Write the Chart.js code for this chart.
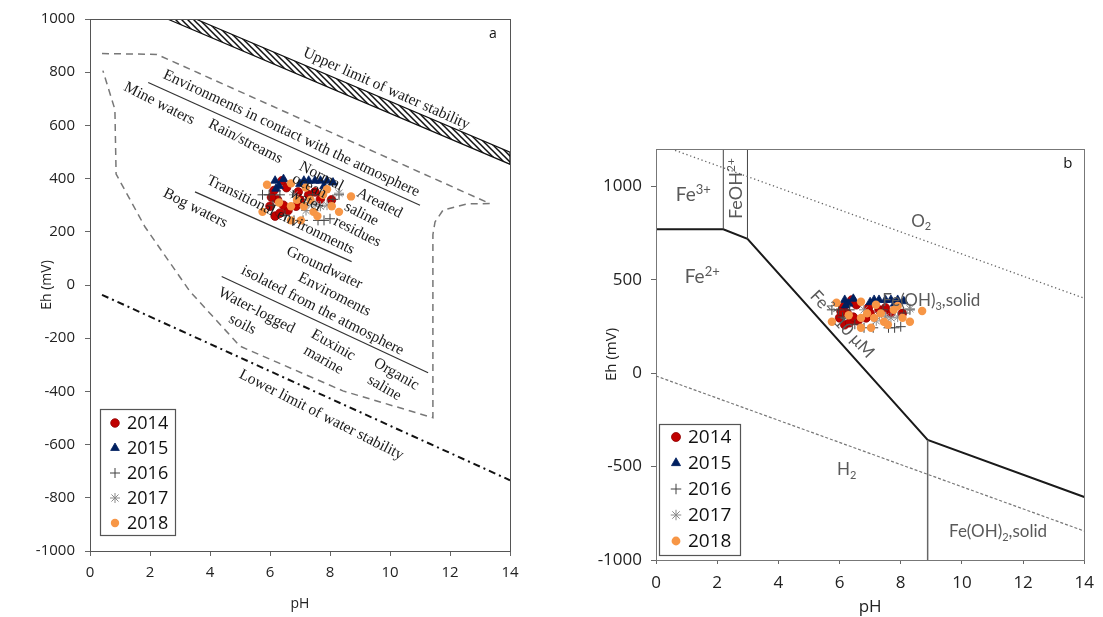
<!DOCTYPE html>
<html><head><meta charset="utf-8">
<script src="https://cdn.jsdelivr.net/npm/chart.js@4.4.1/dist/chart.umd.min.js"></script>
<style>
html,body{margin:0;padding:0;background:#fff;}
#wrap{position:relative;width:1103px;height:617px;overflow:hidden;background:#fff;}
.box{position:absolute;top:0;height:617px;}
</style></head><body>
<div id="wrap">
<div class="box" style="left:0;width:540px"><canvas id="ca"></canvas></div>
<div class="box" style="left:560px;width:543px"><canvas id="cb"></canvas></div>
</div>
<script>
// ---------- measured data (pH, Eh in mV) ----------
const years = ['2014','2015','2016','2017','2018'];
const pH2014 = [6.13,6.40,6.55,6.94,6.00,6.17,6.33,7.29,7.68,6.87,6.25,6.60,7.00,6.45,7.50,6.05,8.05];
const Eh2014 = [355,392,366,350,296,259,270,339,323,296,320,280,320,300,350,330,320];
const pH2015 = [6.17,6.45,7.13,7.29,7.50,7.68,7.90,6.30,7.00,7.80,6.20,8.10];
const Eh2015 = [392,398,392,392,392,392,392,372,380,372,362,385];
const pH2016 = [5.75,5.97,6.33,6.80,7.10,7.60,8.00,8.30,7.42,7.80,6.50,8.10,6.10];
const Eh2016 = [339,339,339,243,243,243,249,339,339,243,262,322,300];
const pH2017 = [7.68,6.80,7.50,7.30,7.90,7.20,8.30];
const Eh2017 = [296,339,302,310,300,280,345];
const pH2018 = [5.90,6.70,5.75,6.70,7.13,7.45,7.77,8.06,7.58,6.70,7.19,7.03,8.30,8.70,6.30,7.90,6.90,7.35];
const Eh2018 = [377,382,275,296,296,275,339,296,259,243,366,243,275,333,310,360,320,320];

// ---------- panel a: environment diagram ----------
const upperBandPH = [2.58,14,14,3.52,2.58];
const upperBandEh = [1000,454,499,1000,1000];
const lowerLimitPH = [0.40,14];
const lowerLimitEh = [-37,-734];
const envelopePH = [0.40,2.23,13.33,12.57,11.77,11.50,11.43,11.43,8.43,5.00,3.33,1.83,0.87,0.83,0.43];
const envelopeEh = [870,867,306,305,282,237,189,-499,-398,-230,-24,219,417,660,806];
const line1PH = [1.94,11.0], line1Eh = [761,300];
const line2PH = [3.50,8.72], line2Eh = [350,88];
const line3PH = [4.39,11.27], line3Eh = [32,-330];
const textA = ['Upper limit of water stability','Environments in contact with the atmosphere','Mine waters','Rain/streams',
  'Normal','ocean','water','Areated','saline','residues','Transitional environments','Bog waters','Groundwater',
  'Enviroments','isolated from the atmosphere','Water-logged','soils','Euxinic','marine','Organic','saline',
  'Lower limit of water stability'];
const textAPH = [9.90,6.73,2.33,5.20,7.73,7.33,7.23,9.67,9.07,8.93,6.37,3.53,7.83,8.17,7.77,5.57,5.10,8.13,7.80,10.23,9.83,7.73];
const textAEh = [742,574,686,544,413,376,323,312,271,204,267,293,69,-32,-92,-92,-144,-222,-278,-331,-383,-484];
const textAAngle = [24,25,27,27,27,27,27,27,27,27,26,27,25,27,27,27,27,30,30,30,30,27];
const panelALetter = 'a', panelALetterPH = 13.43, panelALetterEh = 948;

// ---------- panel b: Fe Pourbaix diagram ----------
const o2PH = [0.5,14], o2Eh = [1200,401];
const h2PH = [0,14], h2Eh = [-15,-845];
const fePH = [0,2.2,2.99,8.88,14], feEh = [770,770,719,-357,-663];
const v1PH = [2.2,2.2], v1Eh = [770,1200];
const v2PH = [2.99,2.99], v2Eh = [719,1200];
const v3PH = [8.88,8.88], v3Eh = [-357,-1000];
const textB = ['Fe^{3+}','Fe^{2+}','O_{2}','Fe(OH)_{3},solid','Fe^{2+} 10 μM','H_{2}','Fe(OH)_{2},solid'];
const textBPH = [1.22,1.51,8.67,9.00,6.10,6.23,11.18];
const textBEh = [955,516,816,390,264,-512,-845];
const textBAngle = [0,0,0,0,47,0,0];
const feohText = 'FeOH^{2+}', feohPH = 2.60, feohEh = 988;
const panelBLetter = 'b', panelBLetterPH = 13.46, panelBLetterEh = 1127;

const xTickValuesA = [0,2,4,6,8,10,12,14];
const yTickValuesA = [-1000,-800,-600,-400,-200,0,200,400,600,800,1000];
const xTickValuesB = [0,2,4,6,8,10,12,14];
const yTickValuesB = [-1000,-500,0,500,1000];
const rangeA = {xmin:0,xmax:14,ymin:-1000,ymax:1000};
const rangeB = {xmin:0,xmax:14,ymin:-1000,ymax:1200};

// ---------- styles ----------
const markerStyles = [
  {pointStyle:'circle',radius:4.3,bg:'#C00000',bc:'#8f0000',bw:0.8},
  {pointStyle:'triangle',radius:5,bg:'#002060',bc:'#002060',bw:0.8},
  {pointStyle:'cross',radius:5,bg:'#404040',bc:'#404040',bw:1},
  {pointStyle:'star',radius:5,bg:'#8a8a8a',bc:'#8a8a8a',bw:1},
  {pointStyle:'circle',radius:4.2,bg:'#F79646',bc:'#F79646',bw:0}
];
const textBFontSize = [19,19,17,17,17,17,17];
const SANS = 'Open Sans', SERIF = 'Liberation Serif', LATO = 'Lato';
const pts = (xs, ys) => xs.map((v,i)=>({x:v,y:ys[i]}));
const seriesPH = [pH2014,pH2015,pH2016,pH2017,pH2018];
const seriesEh = [Eh2014,Eh2015,Eh2016,Eh2017,Eh2018];

function dataSets(){
  return years.map((yr,i)=>{
    const m = markerStyles[i];
    return {type:'scatter',label:yr,data:pts(seriesPH[i],seriesEh[i]),pointStyle:m.pointStyle,
      pointRadius:m.radius,backgroundColor:m.bg,borderColor:m.bc,borderWidth:m.bw,order:5-i};
  });
}
function lineDs(xs,ys,color,width,dash,extra){
  return Object.assign({type:'line',data:pts(xs,ys),borderColor:color,borderWidth:width,borderDash:dash||[],
    pointRadius:0,fill:false,tension:0,order:20,backgroundColor:'rgba(0,0,0,0)'},extra||{});
}
function hatchPattern(){
  const c=document.createElement('canvas'); c.width=6; c.height=6;
  const g=c.getContext('2d'); g.fillStyle='#fff'; g.fillRect(0,0,6,6);
  g.strokeStyle='#111'; g.lineWidth=1.5; g.beginPath();
  g.moveTo(-1,-1); g.lineTo(7,7); g.moveTo(-1,5); g.lineTo(1,7); g.moveTo(5,-1); g.lineTo(7,1); g.stroke();
  return g.createPattern(c,'repeat');
}
function richParts(s){
  const parts=[]; s.split(/(\^\{[^}]*\}|_\{[^}]*\})/).forEach(p=>{
    if(!p) return;
    if(p.startsWith('^{')) parts.push({t:p.slice(2,-1),k:'sup'});
    else if(p.startsWith('_{')) parts.push({t:p.slice(2,-1),k:'sub'});
    else parts.push({t:p,k:''});
  }); return parts;
}
function drawRich(ctx,text,x,y,angle,size,family,color){
  const parts=richParts(text);
  const f=k=>(k?Math.round(size*0.66):size)+'px "'+family+'"';
  let w=0; parts.forEach(p=>{ctx.font=f(p.k); p.w=ctx.measureText(p.t).width; w+=p.w;});
  ctx.save(); ctx.translate(x,y); ctx.rotate(angle*Math.PI/180);
  ctx.fillStyle=color; ctx.textBaseline='alphabetic'; ctx.textAlign='left';
  let cx=-w/2; const base=size*0.35;
  parts.forEach(p=>{ctx.font=f(p.k); const dy=p.k==='sup'?-size*0.38:(p.k==='sub'?size*0.22:0);
    ctx.fillText(p.t,cx,base+dy); cx+=p.w;});
  ctx.restore();
}
function drawLegend(chart,x0,y0,w,h,first,rowH,mx,tx,fsize,scale){
  const ctx=chart.ctx; ctx.save();
  ctx.fillStyle='#fff'; ctx.fillRect(x0,y0,w,h);
  ctx.strokeStyle='#555'; ctx.lineWidth=1.2; ctx.strokeRect(x0+0.5,y0+0.5,w,h);
  years.forEach((yr,i)=>{
    const m=markerStyles[i]; const yy=y0+first+i*rowH;
    ctx.fillStyle=m.bg; ctx.strokeStyle=m.bc; ctx.lineWidth=m.bw;
    Chart.helpers.drawPoint(ctx,{pointStyle:m.pointStyle,radius:m.radius*scale,rotation:0,borderWidth:m.bw},x0+mx,yy);
    ctx.fillStyle='#111'; ctx.font=fsize+'px "'+SANS+'"'; ctx.textAlign='left'; ctx.textBaseline='middle';
    ctx.fillText(yr,x0+tx,yy+1);
  });
  ctx.restore();
}
function frame(chart,color){
  const {ctx,chartArea:a}=chart; ctx.save(); ctx.strokeStyle=color; ctx.lineWidth=1;
  ctx.strokeRect(Math.round(a.left)+0.5,Math.round(a.top)+0.5,Math.round(a.width),Math.round(a.height)); ctx.restore();
}
function axisCfg(min,max,tickVals,fsize,title,tfont,tpad,fit,pad,tickLen){
  return {type:'linear',min:min,max:max,
    afterBuildTicks:s=>{s.ticks=tickVals.map(v=>({value:v}));},
    ticks:{font:{family:SANS,size:fsize},color:'#222',padding:pad,maxRotation:0,autoSkip:false,
      callback:v=>String(v)},
    grid:{display:true,drawOnChartArea:false,drawTicks:true,tickLength:tickLen,color:'#666',lineWidth:1},
    border:{display:true,color:'#666',width:1},
    title:{display:true,text:title,font:{family:SANS,size:tfont},color:'#222',padding:tpad},
    afterFit:fit};
}

// ---------- chart a ----------
const pluginA={id:'panelA',afterDatasetsDraw(chart){
  const {ctx,chartArea:a,scales:{x,y}}=chart;
  ctx.save(); ctx.beginPath(); ctx.rect(a.left,a.top,a.width,a.height); ctx.clip();
  textA.forEach((t,i)=>drawRich(ctx,t,x.getPixelForValue(textAPH[i]),y.getPixelForValue(textAEh[i]),textAAngle[i],15.5,SERIF,'#1a1a1a'));
  drawRich(ctx,panelALetter,x.getPixelForValue(panelALetterPH),y.getPixelForValue(panelALetterEh),0,14,SANS,'#111');
  ctx.restore();
  frame(chart,'#555');
  drawLegend(chart,a.left+10,a.bottom-142,75,126,14,25,15,27,18,1);
}};
new Chart(document.getElementById('ca'),{
  type:'scatter',
  data:{datasets:[
    ...dataSets(),
    lineDs(upperBandPH,upperBandEh,'#111',1.2,[],{fill:'shape',backgroundColor:hatchPattern()}),
    lineDs(lowerLimitPH,lowerLimitEh,'#111',2,[7,4,2,4]),
    lineDs(envelopePH,envelopeEh,'#777',1.5,[7,5]),
    lineDs(line1PH,line1Eh,'#333',1.2),
    lineDs(line2PH,line2Eh,'#333',1.2),
    lineDs(line3PH,line3Eh,'#333',1.2)
  ]},
  options:{responsive:true,maintainAspectRatio:false,animation:false,events:[],
    layout:{padding:{left:0,right:30,top:16,bottom:0}},
    plugins:{legend:{display:false},tooltip:{enabled:false}},
    scales:{
      x:axisCfg(rangeA.xmin,rangeA.xmax,xTickValuesA,15,'pH',14,{top:0,bottom:5},s=>{s.height=66;},8,5),
      y:axisCfg(rangeA.ymin,rangeA.ymax,yTickValuesA,15,'Eh (mV)',14,{top:39,bottom:0},s=>{s.width=90;},10,5)
    }},
  plugins:[pluginA]
});

// ---------- chart b ----------
const pluginB={id:'panelB',afterDatasetsDraw(chart){
  const {ctx,chartArea:a,scales:{x,y}}=chart;
  ctx.save(); ctx.beginPath(); ctx.rect(a.left,a.top,a.width,a.height); ctx.clip();
  textB.forEach((t,i)=>drawRich(ctx,t,x.getPixelForValue(textBPH[i]),y.getPixelForValue(textBEh[i]),textBAngle[i],textBFontSize[i],LATO,'#595959'));
  drawRich(ctx,feohText,x.getPixelForValue(feohPH),y.getPixelForValue(feohEh),-90,18,LATO,'#595959');
  drawRich(ctx,panelBLetter,x.getPixelForValue(panelBLetterPH),y.getPixelForValue(panelBLetterEh),0,15,SANS,'#111');
  ctx.restore();
  frame(chart,'#777');
  drawLegend(chart,a.left+3,a.bottom-136,81,131,13,26,17,29,19,1.05);
}};
new Chart(document.getElementById('cb'),{
  type:'scatter',
  data:{datasets:[
    ...dataSets(),
    lineDs(o2PH,o2Eh,'#666',1.3,[1.3,2.7]),
    lineDs(h2PH,h2Eh,'#777',1.2,[3,2]),
    lineDs(v1PH,v1Eh,'#444',1),
    lineDs(v2PH,v2Eh,'#444',1),
    lineDs(v3PH,v3Eh,'#666',1.5),
    lineDs(fePH,feEh,'#1a1a1a',2)
  ]},
  options:{responsive:true,maintainAspectRatio:false,animation:false,events:[],
    layout:{padding:{left:0,right:11,top:149,bottom:0}},
    plugins:{legend:{display:false},tooltip:{enabled:false}},
    scales:{
      x:axisCfg(rangeB.xmin,rangeB.xmax,xTickValuesB,17,'pH',17,{top:0,bottom:0},s=>{s.height=57;},9,4),
      y:axisCfg(rangeB.ymin,rangeB.ymax,yTickValuesB,17,'Eh (mV)',15,{top:43,bottom:0},s=>{s.width=96;},9,5)
    }},
  plugins:[pluginB]
});
</script>
</body></html>
